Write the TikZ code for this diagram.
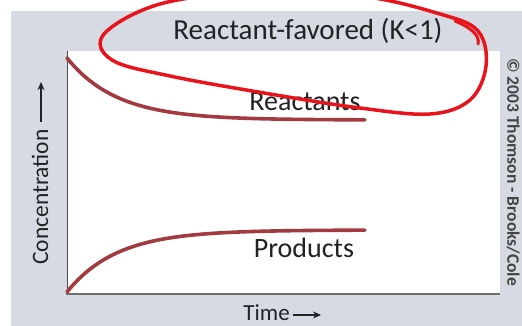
\documentclass[tikz,border=0pt]{standalone}
\usepackage{fontspec}
\setmainfont{Carlito}
\usetikzlibrary{arrows.meta}
\definecolor{panel}{HTML}{D6DAE3}
\definecolor{curve}{HTML}{A23A40}
\definecolor{axis}{HTML}{4A4A4A}
\definecolor{ink}{HTML}{222222}
\definecolor{marker}{HTML}{E8141C}
\tikzset{
  lbl/.style={font=\fontsize{28}{30}\selectfont, text=ink, inner sep=0pt},
  axlbl/.style={font=\fontsize{23}{25}\selectfont, text=ink, inner sep=0pt},
  conc/.style={line width=3.6pt, color=curve, line cap=round},
  axarrow/.style={-{Stealth[length=8pt,width=7pt]}, line width=1.2pt, ink},
}
\begin{document}
\begin{tikzpicture}[x=1pt,y=1pt]
  \useasboundingbox (0,0) rectangle (522,326);
  \fill[white] (0,0) rectangle (522,326);
  % grey panel and white plotting area
  \fill[panel] (11,0) rectangle (522,315);
  \fill[white] (67,33) rectangle (500,275);
  % axes
  \draw[axis, line width=1pt] (67,275) -- (67,32);
  \draw[axis!80, line width=2.5pt] (66,32) -- (500,32);
  % concentration curves
  \draw[conc] plot[domain=67:365, samples=80] (\x, {206+62*exp(-(\x-67)/50)});
  \draw[conc] plot[domain=67:365, samples=80] (\x, {96-62*exp(-(\x-67)/50)});
  % labels
  \node[lbl, font=\fontsize{29}{31}\selectfont] (title) at (308,295) {Reactant-favored (K<1)};
  \node[lbl] (reac) at (305,224) {Reactants};
  \node[lbl] (prod) at (304,78) {Products};
  \node[axlbl, anchor=base east] (time) at (290,5) {Time};
  \coordinate (timeA) at (293,11);
  \coordinate (timeB) at (321,11);
  \draw[axarrow] (timeA) -- (timeB);
  \node[axlbl, font=\fontsize{23.5}{25}\selectfont, rotate=90, anchor=base west] (conclbl) at (48,61) {Concentration};
  \coordinate (concA) at (41,204);
  \coordinate (concB) at (41,244);
  \draw[axarrow] (concA) -- (concB);
  \node[font=\bfseries\fontsize{17.5}{19}\selectfont, text=ink!85, rotate=-90, inner sep=0pt] (copy) at (513,154) {© 2003 Thomson - Brooks/Cole};
  % hand-drawn red marker loop
  \begin{scope}
    \clip (0,0) rectangle (522,326);
    \draw[marker, line width=3.5pt, line cap=round, line join=round]
      plot[smooth cycle, tension=0.6] coordinates {
        (478,295) (440,312) (360,330) (250,333) (160,322) (104,292)
        (112,266) (170,250) (270,232) (360,218) (430,212) (470,226) (486,260)};
    \draw[marker, line width=3pt, line cap=round]
      (455,305) .. controls (472,298) and (480,290) .. (478,282);
  \end{scope}
\end{tikzpicture}
\end{document}
